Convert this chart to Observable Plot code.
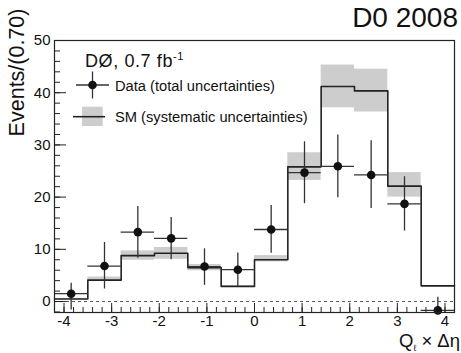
<!DOCTYPE html>
<html><head><meta charset="utf-8">
<script src="https://cdn.jsdelivr.net/npm/d3@7"></script>
<script src="https://cdn.jsdelivr.net/npm/@observablehq/plot@0.6"></script>
<style>
body{margin:0;background:#fff;}
#chart{position:relative;width:461px;height:353px;font-family:"Liberation Sans",Arial,Helvetica,sans-serif;color:#111;}
.t{position:absolute;white-space:nowrap;}
</style>
</head><body><div id="chart"></div>
<script>
// ---- data ----
const binEdges   = [-4.2,-3.5,-2.8,-2.1,-1.4,-0.7,0,0.7,1.4,2.1,2.8,3.5,4.2];
const smValues   = [0.5, 4.1, 8.8, 9.25, 6.5, 2.9, 8.0, 25.8, 41.2, 40.35, 22.1, 3.0];
const smLow      = [0.4, 3.9, 7.9, 8.1, 5.9, 2.8, 7.6, 23.2, 37.1, 36.3, 20.0, 2.9];
const smHigh     = [0.6, 4.7, 9.7, 10.35, 7.1, 3.0, 8.8, 28.5, 45.3, 44.5, 24.7, 3.1];
const dataValues = [1.5, 6.8, 13.3, 12.1, 6.7, 6.1, 13.8, 24.7, 25.9, 24.25, 18.7, -1.7];
const dataLow    = [-1.6, 2.4, 8.3, 8.0, 3.1, 2.9, 9.25, 18.75, 19.9, 17.8, 13.5, -2.1];
const dataHigh   = [3.5, 11.3, 18.2, 16.1, 10.1, 9.3, 18.4, 30.6, 31.9, 30.8, 23.9, 0.8];
const xMajorTicks = [-4,-3,-2,-1,0,1,2,3,4];
const xMinorTicks = d3.range(-42, 43, 2).map(d => d/10);
const yMajorTicks = [0,10,20,30,40,50];
const yMinorTicks = d3.range(-2, 51, 2);

const bins = smValues.map((v,i)=>({
  x1: binEdges[i], x2: binEdges[i+1], xc: (binEdges[i]+binEdges[i+1])/2,
  sm: v, lo: smLow[i], hi: smHigh[i],
  d: dataValues[i], dlo: dataLow[i], dhi: dataHigh[i]
}));
const stepPts = binEdges.map((e,i)=>({x: e, y: smValues[Math.min(i, smValues.length-1)]}));

const plot = Plot.plot({
  width: 461, height: 353,
  marginLeft: 54, marginRight: 7, marginTop: 40, marginBottom: 41,
  style: {fontFamily: '"Liberation Sans",Arial,Helvetica,sans-serif', fontSize: "15px", color: "#111", background: "transparent"},
  x: {domain: [-4.2, 4.2]},
  y: {domain: [-2.1, 50]},
  marks: [
    Plot.rect(bins, {x1: "x1", x2: "x2", y1: "lo", y2: "hi", fill: "#cdcdcd"}),
    Plot.ruleY([0], {stroke: "#555", strokeDasharray: "3,3", strokeWidth: 1}),
    Plot.line(stepPts, {x: "x", y: "y", curve: "step-after", stroke: "#222", strokeWidth: 1.6}),
    Plot.ruleX(bins, {x: "xc", y1: "dlo", y2: "dhi", stroke: "#333", strokeWidth: 1.3}),
    Plot.ruleY(bins, {y: "d", x1: "x1", x2: "x2", stroke: "#333", strokeWidth: 1.3}),
    Plot.dot(bins, {x: "xc", y: "d", r: 4.3, fill: "#111", stroke: "none"}),
    Plot.axisX({ticks: xMinorTicks, tickSize: -5, tickFormat: () => "", label: null, stroke: "#222"}),
    Plot.axisX({ticks: xMajorTicks, tickSize: -9, tickPadding: 12, label: null, stroke: "#222", tickFormat: d => d < 0 ? "-" + (-d) : String(d)}),
    Plot.axisY({ticks: yMinorTicks, tickSize: -6, tickFormat: () => "", label: null, stroke: "#222"}),
    Plot.axisY({ticks: yMajorTicks, tickSize: -12, tickPadding: 16, label: null, stroke: "#222"}),
    Plot.frame({stroke: "#222", strokeWidth: 1.2}),
    Plot.text(["Events/(0.70)"], {frameAnchor: "top-left", dx: -31, dy: -32, rotate: -90, textAnchor: "end", lineAnchor: "bottom", fontSize: 21.5, fill: "#111"})
  ]
});
const chart = document.getElementById("chart");
chart.appendChild(plot);

function addText(html, css){
  const d = document.createElement("div");
  d.className = "t";
  d.innerHTML = html;
  Object.assign(d.style, css);
  chart.appendChild(d);
}
addText("D0 2008", {right: "3px", top: "4px", fontSize: "28px", lineHeight: "28px"});
addText('DØ, 0.7 fb<sup style="font-size:11px;vertical-align:7px">-1</sup>', {left: "85px", top: "47px", fontSize: "18px", lineHeight: "18px", letterSpacing: "0.6px"});
addText("Data (total uncertainties)", {left: "115px", top: "79px", fontSize: "14.7px", lineHeight: "15px"});
addText("SM (systematic uncertainties)", {left: "115px", top: "109.7px", fontSize: "14.7px", lineHeight: "15px"});
addText('Q<sub style="font-size:9px;vertical-align:-4px">ℓ</sub> × Δη', {right: "1px", top: "331px", fontSize: "18.5px", lineHeight: "19px"});

// legend symbols
const ns = "http://www.w3.org/2000/svg";
const lg = document.createElementNS(ns, "svg");
lg.setAttribute("width", 461); lg.setAttribute("height", 353);
lg.style.position = "absolute"; lg.style.left = "0"; lg.style.top = "0"; lg.style.pointerEvents = "none";
lg.innerHTML = `
<line x1="76" y1="85" x2="109" y2="85" stroke="#333" stroke-width="1.3"/>
<line x1="92.5" y1="71.5" x2="92.5" y2="98.5" stroke="#333" stroke-width="1.3"/>
<circle cx="92.5" cy="85" r="4.3" fill="#111"/>
<rect x="82" y="106.7" width="20.7" height="19.3" fill="#cdcdcd"/>
<line x1="73" y1="116.7" x2="105" y2="116.7" stroke="#222" stroke-width="1.6"/>`;
chart.appendChild(lg);
</script>
</body></html>
